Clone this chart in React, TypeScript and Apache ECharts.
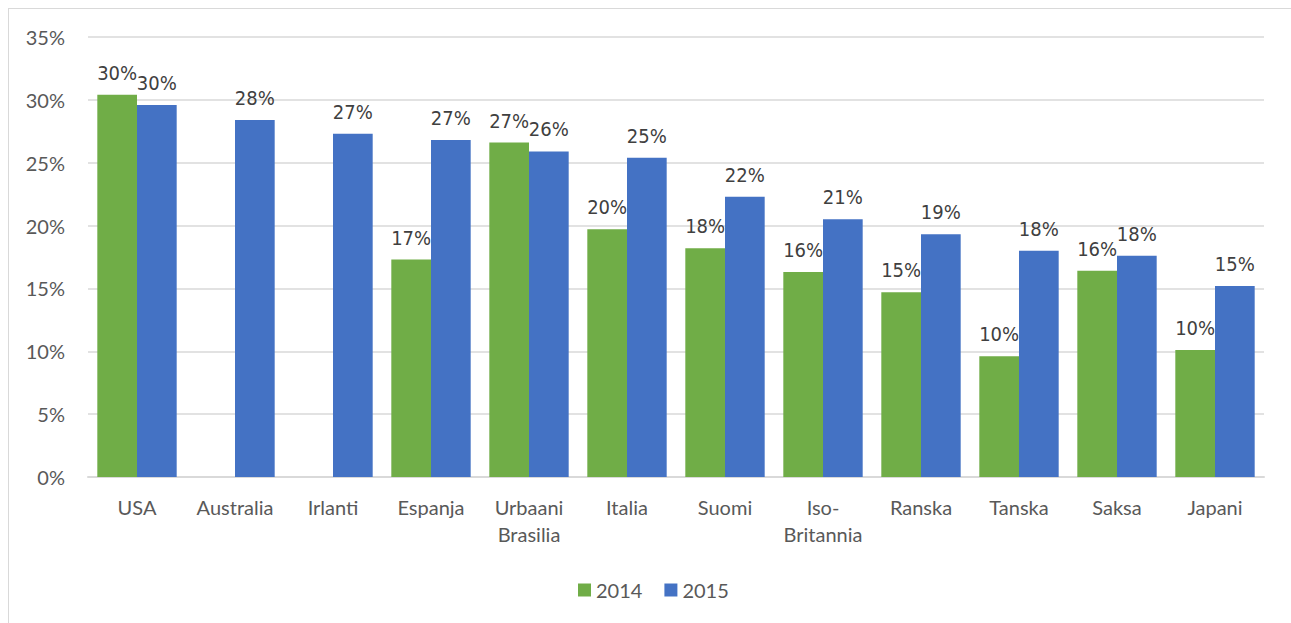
import React, { useEffect, useRef } from "react";
import * as echarts from "echarts";

const categories = ["USA", "Australia", "Irlanti", "Espanja", "Urbaani\nBrasilia", "Italia", "Suomi", "Iso-\nBritannia", "Ranska", "Tanska", "Saksa", "Japani"];
const values2014: (number | null)[] = [30.4, null, null, 17.3, 26.6, 19.7, 18.2, 16.3, 14.7, 9.6, 16.4, 10.1];
const values2015: number[] = [29.6, 28.4, 27.3, 26.8, 25.9, 25.4, 22.3, 20.5, 19.3, 18.0, 17.6, 15.2];
const yTicks = { min: 0, max: 35, interval: 5 };

export default function App() {
  const ref = useRef<HTMLDivElement>(null);
  useEffect(() => {
    if (!ref.current) return;
    document.body.style.overflow = "hidden";
    document.body.style.margin = "0";
    const chart = echarts.init(ref.current, null, { renderer: "svg" });
    const labelStyle = {
      show: true,
      position: "top" as const,
      distance: 12,
      formatter: (p: any) => (p.value == null ? "" : Math.round(p.value) + "%"),
      fontFamily: "'Liberation Sans Narrow', 'Arial Narrow', 'DejaVu Sans Condensed', sans-serif",
      fontSize: 20,
      color: "#404040",
    };
    chart.setOption({
      animation: false,
      graphic: [
        { type: "line", shape: { x1: 8, y1: 8.5, x2: 1291, y2: 8.5 }, style: { stroke: "#d9d9d9", lineWidth: 1 } },
        { type: "line", shape: { x1: 8.5, y1: 8, x2: 8.5, y2: 623 }, style: { stroke: "#d9d9d9", lineWidth: 1 } },
      ],
      grid: { left: 88, right: 27, top: 37, bottom: 146, containLabel: false },
      legend: {
        data: ["2014", "2015"],
        top: 575,
        left: 573,
        itemWidth: 13,
        itemHeight: 13,
        itemGap: 22,
        icon: "rect",
        textStyle: { fontFamily: "Lato, sans-serif", fontSize: 20, color: "#595959" },
      },
      xAxis: {
        type: "category",
        data: categories,
        axisLine: { lineStyle: { color: "#d9d9d9", width: 2 } },
        axisTick: { show: false },
        axisLabel: {
          fontFamily: "Lato, sans-serif",
          fontSize: 20,
          color: "#595959",
          margin: 16,
          lineHeight: 27,
          interval: 0,
        },
      },
      yAxis: {
        type: "value",
        min: yTicks.min,
        max: yTicks.max,
        interval: yTicks.interval,
        axisLine: { show: false },
        axisTick: { show: false },
        splitLine: { lineStyle: { color: "#d9d9d9", width: 1.5 } },
        axisLabel: {
          formatter: "{value}%",
          fontFamily: "Lato, sans-serif",
          fontSize: 20,
          color: "#595959",
          margin: 23,
        },
      },
      series: [
        {
          name: "2014",
          type: "bar",
          data: values2014,
          barGap: "0%",
          barCategoryGap: "19%",
          itemStyle: { color: "#70ad47" },
          label: labelStyle,
        },
        {
          name: "2015",
          type: "bar",
          data: values2015,
          barGap: "0%",
          barCategoryGap: "19%",
          itemStyle: { color: "#4472c4" },
          label: labelStyle,
        },
      ],
    });
    return () => chart.dispose();
  }, []);
  return <div ref={ref} style={{ width: 1291, height: 623 }} />;
}
